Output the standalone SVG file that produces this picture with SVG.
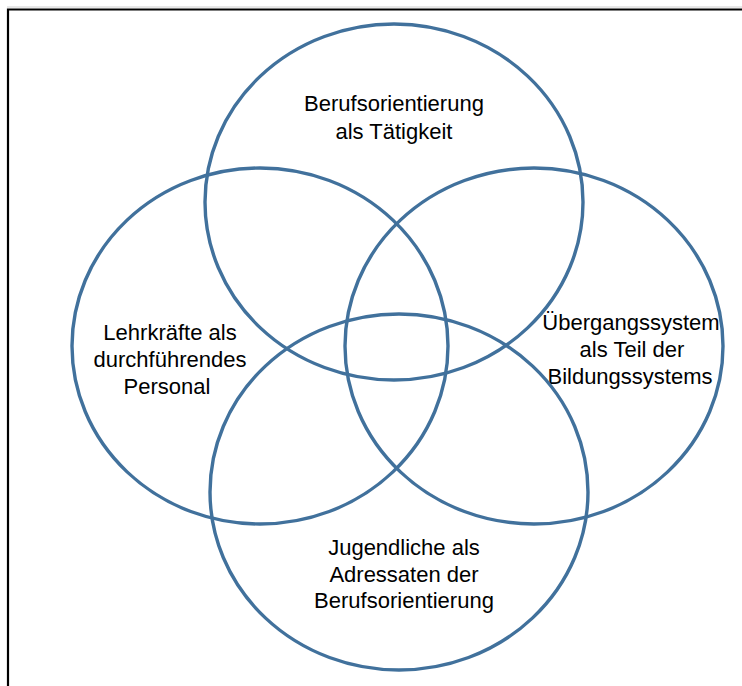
<svg xmlns="http://www.w3.org/2000/svg" width="742" height="686" viewBox="0 0 742 686">
  <style>
    .ring { fill: none; stroke: #41719C; stroke-width: 3.4; }
    .label { font-family: "Liberation Sans", Arial, sans-serif; font-size: 22px; fill: #000; text-anchor: middle; }
    .frame { fill: none; stroke: #000; stroke-width: 2.2; }
  </style>
  <rect x="0" y="0" width="742" height="686" fill="#fff"/>
  <!-- page frame: top and left edges -->
  <g id="frame">
    <line x1="7" y1="7" x2="742" y2="7" stroke="#d0d0d0" stroke-width="1"/>
    <path class="frame" d="M8,686 V9.5 H742"/>
  </g>
  <g id="connectors"></g>
  <g id="top">
    <ellipse class="ring" cx="394" cy="202" rx="189" ry="178"/>
    <text class="label" x="394" y="111">Berufsorientierung</text>
    <text class="label" x="394" y="139">als Tätigkeit</text>
  </g>
  <g id="left">
    <ellipse class="ring" cx="260" cy="346" rx="188" ry="178"/>
    <text class="label" x="170" y="340">Lehrkräfte als</text>
    <text class="label" x="170" y="367">durchführendes</text>
    <text class="label" x="167" y="394">Personal</text>
  </g>
  <g id="right">
    <ellipse class="ring" cx="534" cy="346" rx="189" ry="178"/>
    <text class="label" x="631" y="330">Übergangssystem</text>
    <text class="label" x="632" y="357">als Teil der</text>
    <text class="label" x="630" y="384">Bildungssystems</text>
  </g>
  <g id="bottom">
    <ellipse class="ring" cx="399" cy="492" rx="189" ry="178"/>
    <text class="label" x="404" y="555">Jugendliche als</text>
    <text class="label" x="404" y="582">Adressaten der</text>
    <text class="label" x="404" y="608">Berufsorientierung</text>
  </g>
</svg>
